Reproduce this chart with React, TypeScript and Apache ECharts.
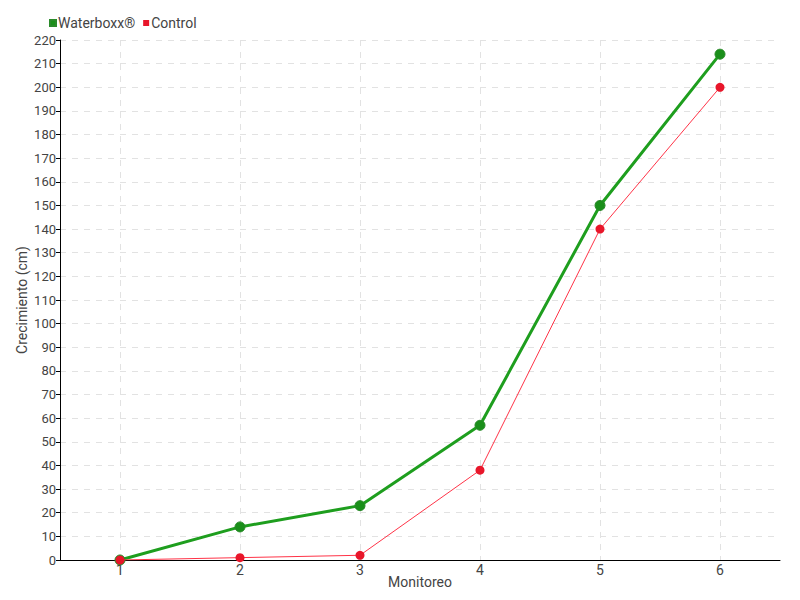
import React, { useEffect, useRef } from "react";
import * as echarts from "echarts";

const categories = ["1", "2", "3", "4", "5", "6"];
const waterboxx = [0, 14, 23, 57, 150, 214];
const control = [0, 1, 2, 38, 140, 200];

const FONT = "'Liberation Sans Narrow', Roboto, sans-serif";

export default function App() {
  const ref = useRef<HTMLDivElement>(null);
  useEffect(() => {
    if (!ref.current) return;
    const chart = echarts.init(ref.current, undefined, { renderer: "svg" });
    chart.setOption({
      animation: false,
      backgroundColor: "#ffffff",
      textStyle: { fontFamily: FONT },
      legend: {
        left: 44,
        top: 11,
        itemWidth: 6,
        itemHeight: 6,
        itemGap: 8,
        icon: "rect",
        textStyle: { color: "#444", fontSize: 14, fontFamily: FONT, padding: [0, 0, 0, -3] },
        data: ["Waterboxx®", "Control"],
      },
      grid: { left: 60, right: 20, top: 40, bottom: 40, containLabel: false },
      xAxis: {
        type: "category",
        data: categories,
        boundaryGap: true,
        name: "Monitoreo",
        nameLocation: "middle",
        nameGap: 15,
        nameMoveOverlap: false,
        nameTextStyle: { color: "#444", fontSize: 14, fontFamily: FONT },
        axisLine: { lineStyle: { color: "#000", width: 1 } },
        axisTick: { alignWithLabel: true, length: 4, lineStyle: { color: "#000" } },
        axisLabel: { color: "#444", fontSize: 14, margin: 3, fontFamily: FONT },
        splitLine: {
          show: true,
          alignWithLabel: true,
          lineStyle: { color: "#e2e2e2", type: [6, 6], width: 1 },
        } as any,
      } as any,
      yAxis: {
        type: "value",
        min: 0,
        max: 220,
        interval: 10,
        name: "Crecimiento (cm)",
        nameLocation: "middle",
        nameGap: 31,
        nameMoveOverlap: false,
        nameTextStyle: { color: "#444", fontSize: 14, fontFamily: FONT },
        axisLine: { show: true, lineStyle: { color: "#000", width: 1 } },
        axisTick: { show: true, length: 4, inside: false, lineStyle: { color: "#000" } },
        axisLabel: { color: "#444", fontSize: 13, margin: 4, fontFamily: FONT },
        splitLine: { show: true, lineStyle: { color: "#e2e2e2", type: [6, 6], width: 1 } },
      } as any,
      series: [
        {
          name: "Waterboxx®",
          type: "line",
          data: waterboxx,
          symbol: "circle",
          symbolSize: 10,
          lineStyle: { color: "#1e9e1e", width: 3 },
          itemStyle: { color: "#1a8f1a", borderColor: "#2a8a2a", borderWidth: 1 },
          color: "#1aa31a",
          z: 2,
        },
        {
          name: "Control",
          type: "line",
          data: control,
          symbol: "circle",
          symbolSize: 9,
          lineStyle: { color: "#ff3347", width: 1 },
          itemStyle: { color: "#e8162a" },
          color: "#ee1c2a",
          z: 3,
        },
      ],
    });
    return () => chart.dispose();
  }, []);
  return (
    <div
      ref={ref}
      style={{ position: "fixed", left: 0, top: 0, width: 800, height: 600 }}
    />
  );
}
